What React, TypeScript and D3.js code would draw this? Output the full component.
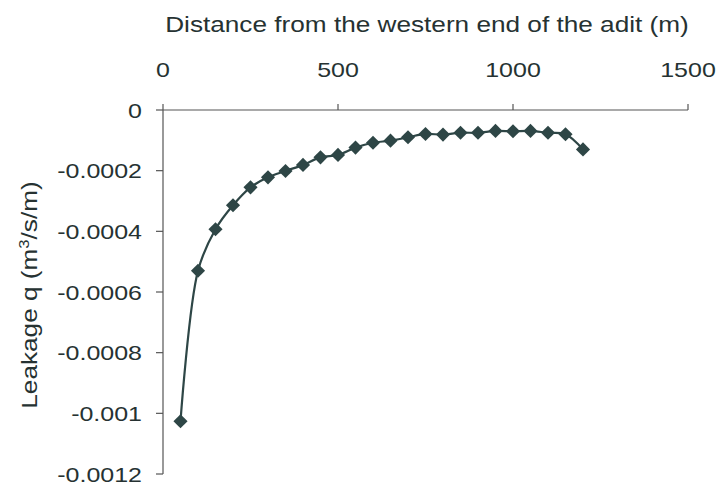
import React from "react";
import * as d3 from "d3";

const distances = [50, 100, 150, 200, 250, 300, 350, 400, 450, 500, 550, 600, 650, 700, 750, 800, 850, 900, 950, 1000, 1050, 1100, 1150, 1200];
const leakage = [-0.001026, -0.00053, -0.000393, -0.000314, -0.000255, -0.000222, -0.000201, -0.000181, -0.000156, -0.000148, -0.000124, -0.000108, -0.000101, -0.00009, -0.000079, -0.000081, -0.000075, -0.000075, -0.000069, -0.00007, -0.000069, -0.000075, -0.00008, -0.00013];
const xTicks = [0, 500, 1000, 1500];
const yTicks = [0, -0.0002, -0.0004, -0.0006, -0.0008, -0.001, -0.0012];
const yTickLabels = ["0", "-0.0002", "-0.0004", "-0.0006", "-0.0008", "-0.001", "-0.0012"];

export default function App() {
  const W = 719, H = 487;
  const x = d3.scaleLinear().domain([0, 1500]).range([163, 688]);
  const y = d3.scaleLinear().domain([0, -0.0012]).range([110, 474]);
  const pts: [number, number][] = distances.map((d, i) => [x(d), y(leakage[i])]);
  const line = d3.line().curve(d3.curveCatmullRom.alpha(0.5))(pts) || "";
  const diamond = d3.symbol().type(d3.symbolSquare).size(100)() || "";
  const font = "'Liberation Sans', Arial, sans-serif";
  const col = "#2e4646";
  const axisCol = "#555";
  const txt = "#263232";
  const sx = 1.19;
  return (
    <svg width={W} height={H} style={{ position: "absolute", left: 0, top: 0, background: "#fff" }} fontFamily={font}>
      <text transform={`translate(427, 32) scale(${sx},1)`} textAnchor="middle" fontSize={22} fill={txt}>
        Distance from the western end of the adit (m)
      </text>
      {xTicks.map((t) => (
        <g key={t}>
          <line x1={x(t)} x2={x(t)} y1={104} y2={110} stroke={axisCol} strokeWidth={1.2} />
          <text transform={`translate(${x(t)}, 77) scale(${sx},1)`} textAnchor="middle" fontSize={21} fill={txt}>{t}</text>
        </g>
      ))}
      <line x1={163} x2={688} y1={110} y2={110} stroke={axisCol} strokeWidth={1.2} />
      {yTicks.map((t, i) => (
        <g key={i}>
          <line x1={156} x2={163} y1={y(t)} y2={y(t)} stroke={axisCol} strokeWidth={1.2} />
          <text transform={`translate(142, ${y(t) + 7.5}) scale(${sx},1)`} textAnchor="end" fontSize={21} fill={txt}>{yTickLabels[i]}</text>
        </g>
      ))}
      <line x1={163} x2={163} y1={110} y2={474} stroke={axisCol} strokeWidth={1.2} />
      <text transform={`translate(37, 295) rotate(-90) scale(${sx},1)`} textAnchor="middle" fontSize={22} fill={txt}>
        Leakage q (m<tspan dy={-8} fontSize={14}>3</tspan><tspan dy={8}>/s/m)</tspan>
      </text>
      <path d={line} fill="none" stroke={col} strokeWidth={2.2} />
      {pts.map((p, i) => (
        <path key={i} d={diamond} transform={`translate(${p[0]},${p[1]}) rotate(45)`} fill={col} />
      ))}
    </svg>
  );
}
